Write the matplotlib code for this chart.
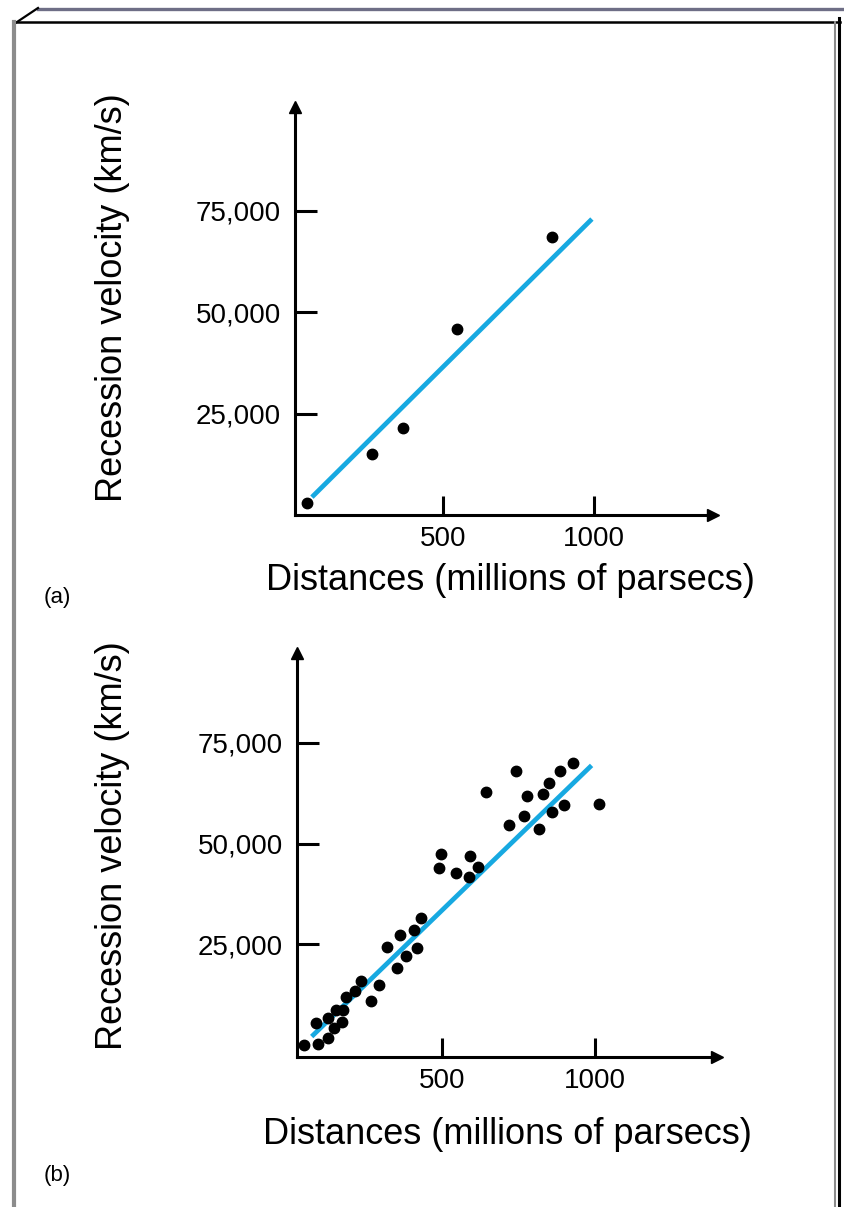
import matplotlib
matplotlib.use("Agg")
import matplotlib.pyplot as plt

plt.rcParams['font.family'] = ['Liberation Sans', 'DejaVu Sans']

# (a) Hubble's original few galaxies
dist_a = [50, 265, 367, 546, 861]
vel_a = [3000, 15000, 21400, 45800, 68500]
fit_a_x = [66, 993]
fit_a_y = [4400, 72900]

# (b) larger sample
dist_b = [927, 743, 885, 849, 645, 778, 831, 1014, 898, 858, 769, 718, 817,
          496, 591, 490, 618, 547, 587, 430, 407, 364, 320, 419, 383, 354,
          236, 294, 217, 187, 269, 176, 154, 127, 88, 174, 148, 127, 94, 50]
vel_b = [69900, 67900, 67900, 65000, 62700, 61900, 62300, 59800, 59600, 57900,
         56900, 54600, 53700, 47300, 46900, 43900, 44200, 42800, 41700, 31400,
         28500, 27400, 24300, 24100, 22200, 19100, 16000, 15000, 13500, 12000,
         11000, 8700, 8600, 6600, 5400, 5600, 4200, 1700, 300, 0]
fit_b_x = [74, 989]
fit_b_y = [2100, 69400]

xticks = [500, 1000]
xtick_labels = ['500', '1000']
yticks = [25000, 50000, 75000]
ytick_labels = ['25,000', '50,000', '75,000']

W, H = 844, 1207
fig = plt.figure(figsize=(W / 100, H / 100), dpi=100)

# page frame
bg = fig.add_axes([0, 0, 1, 1], zorder=-1)
bg.set_xlim(0, W)
bg.set_ylim(H, 0)
bg.axis('off')
bg.plot([38, W], [9, 9], color='#6e6e86', lw=2.4)
bg.plot([14, 38], [24, 8], color='black', lw=1.6)
bg.plot([14, 840], [22, 22], color='black', lw=1.8)
bg.plot([14, 14], [22, H], color='#8c8c8c', lw=3)
bg.plot([835, 835], [22, H], color='#8c8c8c', lw=1.5)
bg.plot([838.5, 838.5], [18, H], color='black', lw=2.2)

blue = '#17a9e1'


def panel(rect, xlim, ylim, xs, ys, fx, fy):
    ax = fig.add_axes(rect)
    ax.set_xlim(*xlim)
    ax.set_ylim(*ylim)
    for s in ['top', 'right']:
        ax.spines[s].set_visible(False)
    for s in ['left', 'bottom']:
        ax.spines[s].set_linewidth(2.2)
    ax.plot(fx, fy, color=blue, lw=3.4, solid_capstyle='butt', zorder=2)
    ax.plot(xs, ys, 'o', color='black', ms=7.5, zorder=3, clip_on=False)
    ax.set_xticks(xticks, xtick_labels)
    ax.set_yticks(yticks, ytick_labels)
    ax.tick_params(axis='x', direction='in', length=14, width=2.2, labelsize=20, pad=8)
    ax.tick_params(axis='y', direction='in', length=16, width=2.2, labelsize=20, pad=10)
    # arrow heads on axes
    ax.plot([1], [0], marker='>', color='black', ms=8, transform=ax.transAxes, clip_on=False)
    ax.plot([0], [1], marker='^', color='black', ms=8, transform=ax.transAxes, clip_on=False)
    return ax


panel([295 / W, (H - 515) / H, 418 / W, 408 / H], (10, 1394), (0, 100500),
      dist_a, vel_a, fit_a_x, fit_a_y)
panel([297 / W, (H - 1057) / H, 420 / W, 404 / H], (26, 1399), (-2980, 97300),
      dist_b, vel_b, fit_b_x, fit_b_y)

xlabel = 'Distances (millions of parsecs)'
ylabel = 'Recession velocity (km/s)'
fig.text(510 / W, 1 - 580 / H, xlabel, ha='center', va='center', fontsize=26)
fig.text(507 / W, 1 - 1134 / H, xlabel, ha='center', va='center', fontsize=26)
fig.text(113 / W, 1 - 298 / H, ylabel, ha='center', va='center', rotation=90, fontsize=26)
fig.text(113 / W, 1 - 846 / H, ylabel, ha='center', va='center', rotation=90, fontsize=26)
fig.text(57 / W, 1 - 597 / H, '(a)', ha='center', va='center', fontsize=16)
fig.text(57 / W, 1 - 1176 / H, '(b)', ha='center', va='center', fontsize=16)

fig.savefig('out.png', dpi=100)
